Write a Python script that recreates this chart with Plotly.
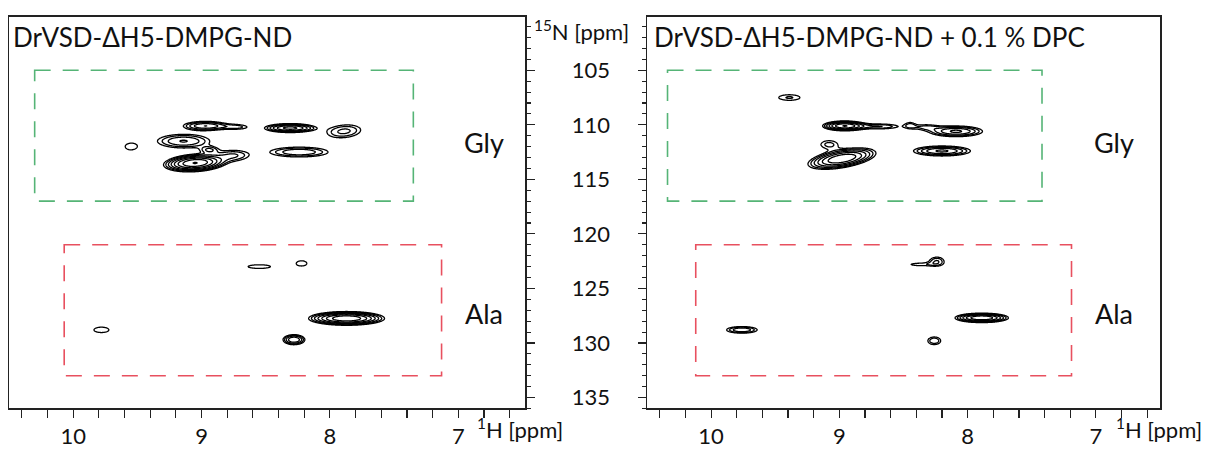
import numpy as np
import plotly.graph_objects as go

# ---------------- data ----------------
TITLES = ["DrVSD-\u0394H5-DMPG-ND", "DrVSD-\u0394H5-DMPG-ND + 0.1 % DPC"]

# Left spectrum (ND) peak list: 1H ppm, 15N ppm, widths, relative height, tilt
nd_h   = [8.97, 8.72, 8.31, 7.89, 9.55, 9.14, 8.94, 9.05, 8.75, 8.24, 8.55, 8.22, 7.87, 9.78, 8.28]
nd_n   = [110.1, 110.2, 110.3, 110.6, 112.0, 111.5, 112.3, 113.5, 112.8, 112.5, 123.0, 122.7, 127.75, 128.8, 129.7]
nd_wh  = [0.11, 0.08, 0.11, 0.11, 0.06, 0.15, 0.05, 0.12, 0.10, 0.17, 0.12, 0.055, 0.145, 0.08, 0.055]
nd_wn  = [0.27, 0.21, 0.23, 0.50, 0.40, 0.46, 0.23, 0.40, 0.40, 0.34, 0.23, 0.32, 0.31, 0.34, 0.30]
nd_amp = [3.3, 1.4, 5.0, 2.0, 1.3, 2.5, 1.6, 8.2, 1.8, 2.4, 1.3, 1.3, 8.0, 1.3, 3.3]
nd_rho = [0.0, 0.0, 0.0, 0.2, 0.0, 0.0, 0.0, 0.2, 0.0, 0.0, 0.0, 0.0, 0.0, 0.0, 0.0]

# Right spectrum (ND + DPC) peak list
dpc_h   = [9.39, 8.96, 8.68, 8.45, 8.09, 8.33, 8.20, 8.98, 9.08, 8.24, 8.38, 7.89, 9.76, 8.26]
dpc_n   = [107.5, 110.1, 110.15, 110.0, 110.6, 110.2, 112.4, 113.1, 111.8, 122.5, 122.8, 127.7, 128.8, 129.8]
dpc_wh  = [0.10, 0.09, 0.12, 0.035, 0.13, 0.08, 0.14, 0.14, 0.07, 0.05, 0.10, 0.11, 0.09, 0.046]
dpc_wn  = [0.31, 0.24, 0.20, 0.28, 0.31, 0.23, 0.29, 0.52, 0.38, 0.34, 0.17, 0.23, 0.23, 0.32]
dpc_amp = [1.4, 6.0, 1.8, 1.15, 3.5, 1.3, 3.5, 6.0, 1.5, 1.8, 1.2, 6.0, 2.4, 1.8]
dpc_rho = [0.0, 0.0, 0.0, 0.0, 0.0, 0.0, 0.0, 0.5, 0.0, 0.0, 0.0, 0.0, 0.0, 0.0]

# Region boxes [H_left, H_right, N_top, N_bottom] per panel
gly_boxes = [[10.30, 7.35, 105.0, 117.0], [10.34, 7.42, 105.0, 117.0]]
ala_boxes = [[10.07, 7.13, 121.0, 133.0], [10.12, 7.19, 121.0, 133.0]]
region_labels = ["Gly", "Ala"]
label_h = [[6.80, 6.80], [6.86, 6.86]]   # per panel: Gly, Ala
label_n = [111.6, 127.3]

x_tick_vals = [10, 9, 8, 7]
y_tick_vals = [105, 110, 115, 120, 125, 130, 135]

# ---------------- spectrum surfaces ----------------
gh = np.linspace(10.1, 7.4, 520)
gn = np.linspace(105.5, 131.5, 521)
H, N = np.meshgrid(gh, gn)


def spectrum(hs, ns, whs, wns, amps, rhos):
    total = np.zeros_like(H)
    for h0, n0, sh, sn, a, r in zip(hs, ns, whs, wns, amps, rhos):
        u = (H - h0) / sh
        v = (N - n0) / sn
        q = (u * u - 2 * r * u * v + v * v) / (2 * (1 - r * r))
        total += a * np.exp(-q)
    return np.log10(total + 1e-4).astype(np.float32)


z_nd = spectrum(nd_h, nd_n, nd_wh, nd_wn, nd_amp, nd_rho)
z_dpc = spectrum(dpc_h, dpc_n, dpc_wh, dpc_wn, dpc_amp, dpc_rho)

FONT = "Lato, Carlito, 'Open Sans', sans-serif"
W, HGT = 1211, 449

fig = go.Figure()
for z, xa, ya in [(z_nd, "x", "y"), (z_dpc, "x2", "y2")]:
    fig.add_trace(go.Contour(
        x=gh, y=gn, z=z, xaxis=xa, yaxis=ya,
        contours=dict(coloring="lines", start=0.0, end=1.2, size=0.13, showlabels=False),
        colorscale=[[0, "black"], [1, "black"]],
        line=dict(width=1.3, color="black"),
        showscale=False, hoverinfo="skip",
    ))

# panel geometry
x1_dom = [9 / W, 525 / W]
x2_dom = [647 / W, 1160 / W]
y_dom = [(HGT - 413) / HGT, (HGT - 17) / HGT]
x1_range = [10.50, 6.48]
x2_range = [10.50, 6.50]
y_range = [136.0, 100.1]
frame = dict(showline=True, linecolor="#222", linewidth=1.5, mirror=True,
             showgrid=False, zeroline=False)

xcommon = dict(ticks="outside", ticklen=8, tickwidth=1.2,
               tickcolor="#222", tickvals=x_tick_vals,
               tickfont=dict(family=FONT, size=22, color="#111"),
               minor=dict(dtick=0.2, tick0=10, ticks="outside", ticklen=8,
                          tickwidth=1.2, tickcolor="#222"),
               **frame)
ycommon = dict(range=y_range, ticks="outside", ticklen=8, tickwidth=1.2,
               tickcolor="#222", tickvals=y_tick_vals,
               minor=dict(dtick=1, tick0=100, ticks="outside", ticklen=4,
                          tickwidth=1.1, tickcolor="#222"),
               **frame)

fig.update_layout(
    width=W, height=HGT, autosize=False,
    margin=dict(l=0, r=0, t=0, b=0),
    paper_bgcolor="white", plot_bgcolor="white",
    showlegend=False,
    xaxis=dict(domain=x1_dom, anchor="y", range=x1_range, **xcommon),
    xaxis2=dict(domain=x2_dom, anchor="y2", range=x2_range, **xcommon),
    yaxis=dict(domain=y_dom, anchor="x", side="right", showticklabels=False, **ycommon),
    yaxis2=dict(domain=y_dom, anchor="x2", side="left", showticklabels=True,
                tickfont=dict(family=FONT, size=22, color="#111"),
                ticklabelstandoff=23, **ycommon),
)

# region boxes
for i, (xa, ya) in enumerate([("x", "y"), ("x2", "y2")]):
    for box, col in [(gly_boxes[i], "#55B476"), (ala_boxes[i], "#E8505F")]:
        fig.add_shape(type="rect", xref=xa, yref=ya,
                      x0=box[0], x1=box[1], y0=box[2], y1=box[3],
                      line=dict(color=col, width=1.6, dash="16px,12px"))
    for j, lab in enumerate(region_labels):
        fig.add_annotation(text=lab, xref=xa, yref=ya, x=label_h[i][j], y=label_n[j],
                           showarrow=False, xanchor="center", yanchor="middle",
                           font=dict(family=FONT, size=27, color="#111"))

# titles
fig.add_annotation(text=TITLES[0], xref="paper", yref="paper", x=11 / W, y=(HGT - 37) / HGT,
                   xanchor="left", yanchor="middle", showarrow=False,
                   font=dict(family=FONT, size=26, color="#111"))
fig.add_annotation(text=TITLES[1], xref="paper", yref="paper", x=652 / W, y=(HGT - 37) / HGT,
                   xanchor="left", yanchor="middle", showarrow=False,
                   font=dict(family=FONT, size=26, color="#111"))

# axis labels
fig.add_annotation(text="<sup>15</sup>N [ppm]", xref="paper", yref="paper",
                   x=532 / W, y=(HGT - 31) / HGT, xanchor="left", yanchor="middle",
                   showarrow=False, font=dict(family=FONT, size=22, color="#111"))
for xl in [475, 1114]:
    fig.add_annotation(text="<sup>1</sup>H [ppm]", xref="paper", yref="paper",
                       x=xl / W, y=(HGT - 433) / HGT, xanchor="left", yanchor="middle",
                       showarrow=False, font=dict(family=FONT, size=22, color="#111"))

fig.write_html(
    "out.html",
    config={"displayModeBar": False, "staticPlot": True},
    post_script="document.body.style.margin='0';document.body.style.overflow='hidden';",
)
